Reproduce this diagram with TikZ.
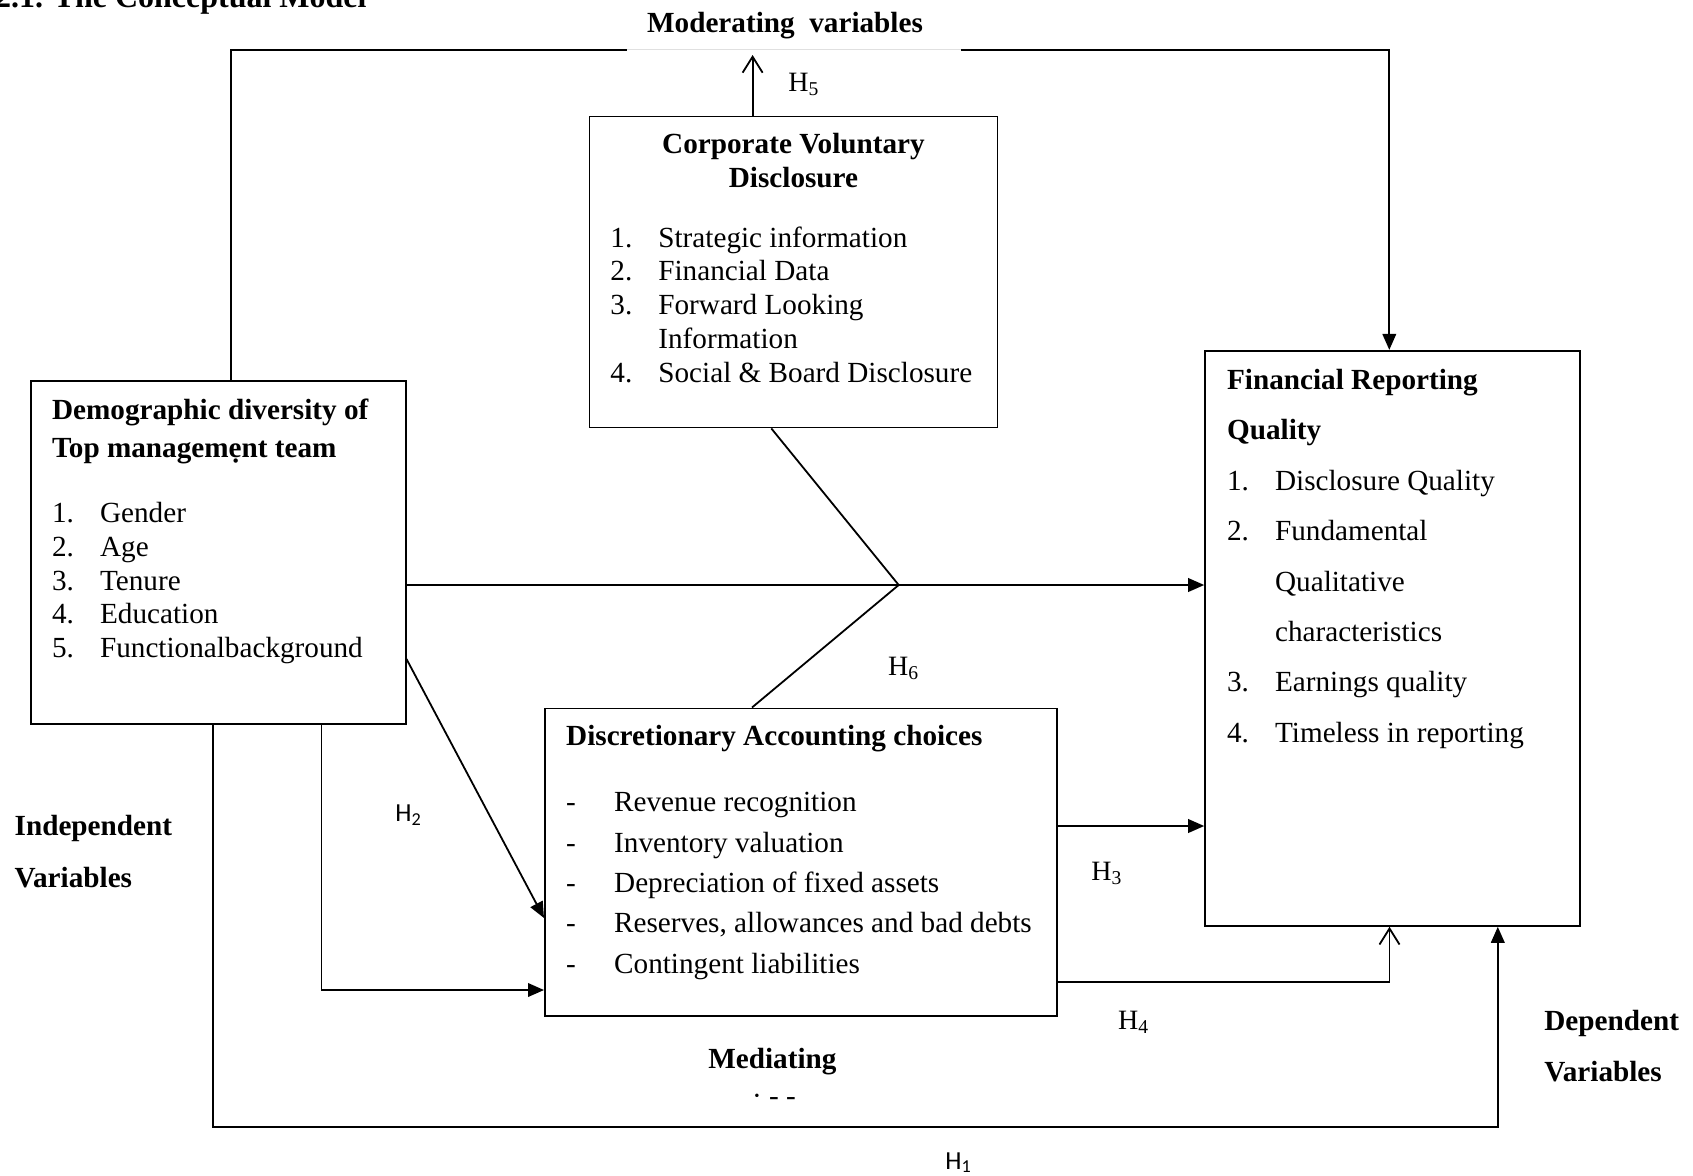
\documentclass[tikz,border=0pt]{standalone}
\usepackage{fontspec}
\setmainfont{Liberation Serif}
\newfontfamily\hsans{Carlito}
\usetikzlibrary{arrows.meta}
\newcommand\itm[1]{\makebox[24pt][l]{#1}}
\begin{document}
\begin{tikzpicture}[x=0.5pt, y=-0.5pt,
  bx/.style={draw=black, line width=0.8pt, inner sep=0pt},
  tx/.style={anchor=base west, inner sep=0pt, font=\fontsize{14.6}{17}\selectfont},
  hd/.style={tx, font=\fontsize{14.6}{17}\selectfont\bfseries},
  hy/.style={tx, font=\fontsize{14}{16}\selectfont},
  hs/.style={tx, font=\hsans\fontsize{13}{15}\selectfont},
  e/.style={line width=0.9pt},
  ar/.style={e, -{Triangle[length=8pt,width=6.8pt]}},
  oa/.style={e, -{Straight Barb[length=8pt,width=10pt]}}]
\useasboundingbox (0,0) rectangle (1693,1175);
% boxes
\node[bx, minimum width=187.5pt, minimum height=171.65pt] (demo) at (218.2,552.35) {};
\node[bx, minimum width=204.05pt, minimum height=155.5pt] (cvd) at (793.55,272.1) {};
\node[bx, minimum width=187.4pt, minimum height=287.65pt] (frq) at (1392.4,638.35) {};
\node[bx, minimum width=256.2pt, minimum height=153.85pt] (dac) at (801,862.15) {};
% headings
\node[hd, anchor=base east, font=\fontsize{16}{19}\selectfont\bfseries] (ttl) at (367,7) {2.1. The Conceptual Model};
\node[hd, anchor=base] (mod-t) at (785,32) {Moderating\ \ variables};
\node[hd] (demo-t1) at (51.7,419.3) {Demographic diversity of};
\node[hd] (demo-t2) at (51.7,457.3) {Top managemẹnt team};
\node[hd, anchor=base] (cvd-t1) at (793.5,153) {Corporate Voluntary};
\node[hd, anchor=base] (cvd-t2) at (793.5,187) {Disclosure};
\node[hd] (frq-t1) at (1226.7,389.5) {Financial Reporting};
\node[hd] (frq-t2) at (1226.7,439.9) {Quality};
\node[hd] (dac-t) at (565.8,745) {Discretionary Accounting choices};
\node[hd] (ind1) at (14.3,835) {Independent};
\node[hd] (ind2) at (14.3,887) {Variables};
\node[hd] (dep1) at (1544,1030) {Dependent};
\node[hd] (dep2) at (1544,1081) {Variables};
\node[hd, anchor=base] (med) at (772.4,1068) {Mediating};
\node[tx, anchor=center] (med-f) at (774,1100) {· - -};
% lists
\foreach \s [count=\i] in {Gender, Age, Tenure, Education, Functionalbackground}
  \node[tx] (demo-\i) at (51.7,{489+33.7*\i}) {\itm{\i.}\s};
\foreach \n/\s [count=\i] in {1./Strategic information, 2./Financial Data, 3./Forward Looking, /Information, 4./Social \& Board Disclosure}
  \node[tx] (cvd-\i) at (610,{213.2+33.8*\i}) {\itm{\n}\s};
\foreach \n/\s [count=\i] in {1./Disclosure Quality, 2./Fundamental, /Qualitative, /characteristics, 3./Earnings quality, 4./Timeless in reporting}
  \node[tx] (frq-\i) at (1226.7,{439.9+50.4*\i}) {\itm{\n}\s};
\foreach \s [count=\i] in {Revenue recognition, Inventory valuation, Depreciation of fixed assets, {Reserves, allowances and bad debts}, Contingent liabilities}
  \node[tx] (dac-\i) at (565.8,{771.3+40.4*\i}) {\itm{-}\s};
% hypotheses
\node[hs] (h1) at (945,1169) {H\textsubscript{1}};
\node[hs] (h2) at (395,821.7) {H\textsubscript{2}};
\node[hy] (h3) at (1091,880) {H\textsubscript{3}};
\node[hy] (h4) at (1117.7,1029.3) {H\textsubscript{4}};
\node[hy] (h5) at (788,91) {H\textsubscript{5}};
\node[hy] (h6) at (887.7,675) {H\textsubscript{6}};
% connectors
\coordinate (tl) at (231,49.7);
\coordinate (tr) at (1389.3,49.7);
\coordinate (gl) at (627,49.7);
\coordinate (gr) at (961,49.7);
\coordinate (mod) at (752.6,55);
\coordinate (j) at (898.7,585);
\coordinate (b1) at (212.7,1126.7);
\coordinate (b1r) at (1497.8,1126.7);
\coordinate (b2) at (321.4,990);
\coordinate (h4c) at (1389.5,981.7);
\draw[e] (demo.north -| tl) -- (tl) -- (gl);
\draw[black!12, line width=0.4pt] (gl) -- (gr);
\draw[ar] (gr) -- (tr) -- (frq.north -| tr);
\draw[oa] (cvd.north -| mod) -- (mod);
\draw[ar] (demo.east |- j) -- (frq.west |- j);
\draw[e] (cvd.south -| 771.3,0) -- (j) -- (dac.north -| 752,0);
\draw[ar] (demo.east |- 0,659) -- (dac.west |- 0,918);
\draw[ar] (demo.south -| b2) -- (b2) -- (dac.west |- b2);
\draw[ar] (demo.south -| b1) -- (b1) -- (b1r) -- (frq.south -| b1r);
\draw[ar] (dac.east |- 0,826) -- (frq.west |- 0,826);
\draw[oa] (dac.east |- h4c) -- (h4c) -- (frq.south -| h4c);
\end{tikzpicture}
\end{document}
